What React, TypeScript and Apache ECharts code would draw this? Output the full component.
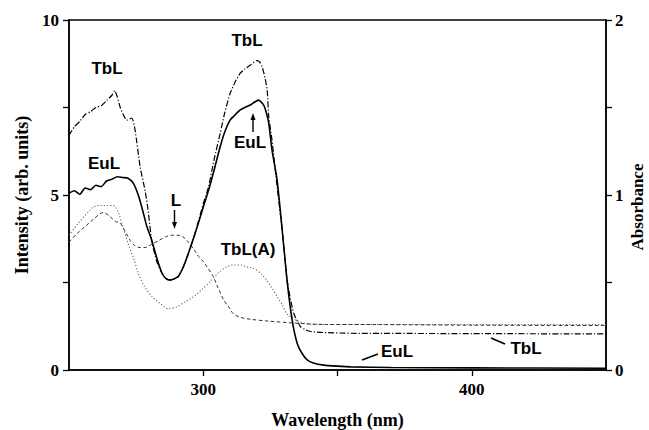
import React, { useEffect, useRef } from "react";
import * as echarts from "echarts";

// ---- Data ----
const eulWl = [250, 252, 254, 256, 258, 260, 262, 264, 266, 268, 270, 272, 274, 276, 277.7, 279, 280.8, 282.7, 284.6, 286, 287.7, 289, 290.7, 292.6, 294.5, 296.4, 298.2, 300, 302, 304, 306.3, 308, 310, 312, 313.8, 315.5, 317.5, 319, 320.6, 322.5, 323.5, 324.4, 325.6, 327.5, 329.4, 331.2, 333.1, 335, 337, 338.7, 341, 344.9, 350, 355, 370, 400, 450];
const eulInt = [5.05, 5.12, 5.02, 5.2, 5.15, 5.28, 5.24, 5.4, 5.45, 5.52, 5.5, 5.48, 5.33, 4.95, 4.48, 4.1, 3.71, 3.2, 2.77, 2.62, 2.57, 2.6, 2.67, 2.95, 3.34, 3.77, 4.2, 4.65, 5.14, 5.7, 6.38, 6.8, 7.14, 7.3, 7.43, 7.5, 7.57, 7.65, 7.71, 7.57, 7.35, 7.05, 6.29, 5.43, 4.0, 2.57, 1.43, 0.76, 0.45, 0.29, 0.2, 0.14, 0.11, 0.09, 0.07, 0.06, 0.05];

const tblWl = [250, 252, 254, 256, 258, 260, 262, 264, 266, 267, 268, 269, 270.5, 271.5, 273.4, 274.6, 276.5, 278.4, 279.4, 280.8, 282.7, 284.6, 286, 287.7, 289, 290.7, 292.6, 294.5, 296.4, 298.2, 300, 302, 304, 306.3, 308, 310, 312, 313.8, 315.5, 317.5, 319, 320, 321, 321.9, 323, 323.8, 324.4, 325.6, 327.5, 329.4, 331.2, 331.8, 333.7, 336.2, 338, 340, 345, 355, 400, 450];
const tblInt = [6.7, 6.95, 7.1, 7.3, 7.38, 7.5, 7.55, 7.7, 7.85, 7.98, 7.8, 7.52, 7.25, 7.14, 7.2, 6.86, 5.8, 5.1, 4.6, 3.7, 3.1, 2.77, 2.62, 2.57, 2.6, 2.67, 2.95, 3.34, 3.77, 4.25, 4.75, 5.24, 6.0, 6.76, 7.35, 7.9, 8.25, 8.48, 8.6, 8.71, 8.8, 8.84, 8.8, 8.67, 8.35, 8.0, 7.24, 6.57, 5.24, 4.0, 2.6, 2.29, 1.62, 1.24, 1.15, 1.1, 1.07, 1.05, 1.04, 1.03];

const lWl = [250, 253, 256, 259, 262.8, 265, 267.2, 269, 271, 272.8, 274.5, 276.5, 278.5, 280.9, 283.5, 285.8, 288, 290.8, 292.5, 294.5, 296.5, 298.2, 300, 303.5, 305.5, 307.6, 309.5, 311.3, 314, 317.5, 323.8, 332.5, 345, 355, 400, 450];
const lAbs = [0.73, 0.78, 0.82, 0.86, 0.9, 0.88, 0.85, 0.84, 0.79, 0.74, 0.71, 0.7, 0.7, 0.72, 0.74, 0.76, 0.77, 0.77, 0.76, 0.73, 0.69, 0.65, 0.62, 0.54, 0.47, 0.4, 0.36, 0.32, 0.3, 0.29, 0.28, 0.27, 0.26, 0.26, 0.256, 0.254];

const tblaWl = [250, 253.5, 257, 259, 261, 264, 266.5, 268.4, 270, 272.1, 274, 275.9, 278, 280.9, 284, 287, 290, 293.3, 296.5, 299.5, 303.5, 306, 308.8, 311, 313.8, 316, 318.8, 321.5, 323.8, 325.5, 327.5, 329.5, 331.2, 333, 335, 340, 350, 400, 450];
const tblaAbs = [0.77, 0.84, 0.9, 0.93, 0.94, 0.94, 0.94, 0.9, 0.82, 0.72, 0.64, 0.55, 0.48, 0.42, 0.38, 0.35, 0.36, 0.39, 0.42, 0.46, 0.52, 0.56, 0.59, 0.6, 0.6, 0.59, 0.58, 0.55, 0.51, 0.47, 0.42, 0.37, 0.32, 0.3, 0.28, 0.262, 0.26, 0.26, 0.26];

const xLabelValues = [300, 400];
const xTickValues = [300, 350, 400];

const pairs = (xs: number[], ys: number[]) => xs.map((x, i) => [x, ys[i]]);

const SERIF = "'Liberation Serif', 'Times New Roman', serif";
const SANS = "'Liberation Sans', Arial, sans-serif";

const label = (text: string, x: number, y: number) => ({
  type: "text",
  x,
  y,
  style: { text, fill: "#000", font: `bold 17px ${SANS}`, textAlign: "center", textVerticalAlign: "middle" },
});

export default function App() {
  const ref = useRef<HTMLDivElement>(null);
  useEffect(() => {
    document.body.style.margin = "0";
    const chart = echarts.init(ref.current!, null, { renderer: "svg" });
    const axisLine = { show: true, onZero: false, lineStyle: { color: "#000", width: 1.5 } };
    const tickStyle = { color: "#000", width: 1.3, opacity: 1 };
    const tick = { show: true, inside: false, length: 6, lineStyle: tickStyle };
    const minor = { show: true, splitNumber: 2, length: 6, lineStyle: tickStyle };
    const tickFont = { fontFamily: SERIF, fontWeight: "bold", fontSize: 17, color: "#000" };
    const nameFont = { fontFamily: SERIF, fontWeight: "bold", fontSize: 18, color: "#000" };
    chart.setOption({
      animation: false,
      grid: {
        left: 69, right: 43, top: 20, bottom: 60,
        outerBoundsMode: "none", containLabel: false,
        show: true, borderColor: "#000", borderWidth: 1.5,
      },
      xAxis: {
        type: "value",
        min: 250,
        max: 450,
        interval: 50,
        name: "Wavelength (nm)",
        nameLocation: "middle",
        nameGap: 41,
        nameTextStyle: nameFont,
        axisLine,
        axisTick: { ...tick, customValues: xTickValues },
        axisLabel: { ...tickFont, customValues: xLabelValues, margin: 11 },
        splitLine: { show: false },
      },
      yAxis: [
        {
          type: "value",
          min: 0,
          max: 10,
          interval: 5,
          name: "Intensity (arb. units)",
          nameLocation: "middle",
          nameGap: 38,
          nameTextStyle: nameFont,
          axisLine,
          axisTick: tick,
          minorTick: minor,
          axisLabel: { ...tickFont, margin: 10 },
          splitLine: { show: false },
        },
        {
          type: "value",
          min: 0,
          max: 2,
          interval: 1,
          position: "right",
          axisLine,
          axisTick: tick,
          minorTick: minor,
          axisLabel: { ...tickFont, margin: 9 },
          splitLine: { show: false },
        },
      ],
      series: [
        {
          name: "TbL(A)",
          type: "line",
          yAxisIndex: 1,
          data: pairs(tblaWl, tblaAbs),
          showSymbol: false,
          smooth: 0.3,
          lineStyle: { color: "#666", width: 1.1, type: [1.2, 2] },
        },
        {
          name: "L",
          type: "line",
          yAxisIndex: 1,
          data: pairs(lWl, lAbs),
          showSymbol: false,
          smooth: 0.3,
          lineStyle: { color: "#333", width: 1, type: [3.5, 2.5] },
        },
        {
          name: "TbL",
          type: "line",
          data: pairs(tblWl, tblInt),
          showSymbol: false,
          smooth: 0.2,
          lineStyle: { color: "#000", width: 1.2, type: [6, 2, 1.2, 2] },
        },
        {
          name: "EuL",
          type: "line",
          data: pairs(eulWl, eulInt),
          showSymbol: false,
          smooth: 0.2,
          lineStyle: { color: "#000", width: 1.6 },
        },
      ],
      graphic: [
        {
          type: "text",
          x: 637,
          y: 207,
          rotation: Math.PI / 2,
          style: { text: "Absorbance", fill: "#000", font: `bold 17px ${SERIF}`, textAlign: "center", textVerticalAlign: "middle" },
        },
        label("TbL", 107, 68),
        label("EuL", 104, 163),
        label("TbL", 247, 40),
        label("EuL", 250, 142),
        label("L", 176, 200),
        label("TbL(A)", 248, 249),
        label("EuL", 397, 351),
        label("TbL", 526, 348),
        { type: "line", shape: { x1: 253, y1: 132, x2: 253, y2: 119 }, style: { stroke: "#000", lineWidth: 1.4 } },
        { type: "polygon", shape: { points: [[250.5, 120], [255.5, 120], [253, 113]] }, style: { fill: "#000" } },
        { type: "line", shape: { x1: 174.5, y1: 210, x2: 174.5, y2: 223 }, style: { stroke: "#000", lineWidth: 1.4 } },
        { type: "polygon", shape: { points: [[172, 222], [177, 222], [174.5, 229]] }, style: { fill: "#000" } },
        { type: "line", shape: { x1: 362, y1: 360, x2: 378, y2: 354 }, style: { stroke: "#000", lineWidth: 1.8 } },
        { type: "line", shape: { x1: 491, y1: 338, x2: 505, y2: 344 }, style: { stroke: "#000", lineWidth: 1.8 } },
      ],
    });
    return () => chart.dispose();
  }, []);
  return <div ref={ref} style={{ width: 649, height: 430 }} />;
}
